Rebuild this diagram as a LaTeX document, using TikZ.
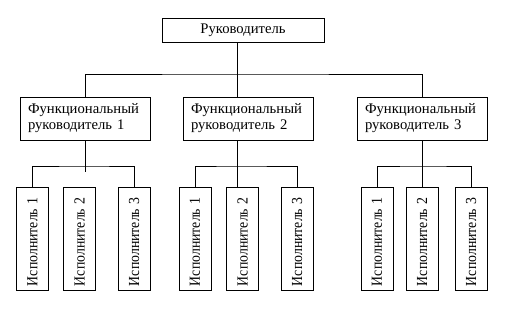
\documentclass[tikz,border=0pt]{standalone}
\usepackage{fontspec}
\usepackage{graphicx}
\setmainfont{Liberation Serif}
\usetikzlibrary{calc}
\newcommand{\exlabel}[1]{\scalebox{0.9}[1]{Исполнитель #1}}

\begin{document}
\begin{tikzpicture}[x=0.75pt,y=-0.75pt,
 head/.style={draw,line width=0.6pt,minimum width=121.5pt,minimum height=18pt,
 inner sep=0pt,font=\fontsize{11}{12}\selectfont},
 fmbox/.style={draw,line width=0.6pt,text width=85.5pt,inner xsep=6pt,
 minimum height=32.25pt,align=left,font=\fontsize{11}{12}\selectfont},
 exbox/.style={draw,line width=0.6pt,rotate=90,text width=71.25pt,inner xsep=3pt,
 inner ysep=0pt,minimum height=24pt,align=left,font=\fontsize{11.5}{12}\selectfont},
 link/.style={line width=0.6pt}]
\useasboundingbox (0,0) rectangle (516,309);
\node[head] (boss) at (243,30) {Руководитель};
\node[fmbox] (fm1) at (85,118.5) {Функциональный\\руководитель 1};
\node[fmbox] (fm2) at (248,118.5) {Функциональный\\руководитель 2};
\node[fmbox] (fm3) at (422,118.5) {Функциональный\\руководитель 3};
\node[exbox] (ex11) at (32.5,238.5) {\exlabel{1}};
\node[exbox] (ex12) at (79.5,238.5) {\exlabel{2}};
\node[exbox] (ex13) at (134,238.5) {\exlabel{3}};
\node[exbox] (ex21) at (195,238.5) {\exlabel{1}};
\node[exbox] (ex22) at (242.5,238.5) {\exlabel{2}};
\node[exbox] (ex23) at (297,238.5) {\exlabel{3}};
\node[exbox] (ex31) at (377,238.5) {\exlabel{1}};
\node[exbox] (ex32) at (422,238.5) {\exlabel{2}};
\node[exbox] (ex33) at (471,238.5) {\exlabel{3}};
% buses
\coordinate (spine) at (237,74);
\coordinate (bus1) at (85,166);
\coordinate (stub1) at (85,172);
\coordinate (bus2) at (237,166);
\coordinate (bus3) at (422,166);
\draw[link] (spine |- boss.south) -- (spine |- fm2.north);
\draw[link] (fm1.north) |- (spine) -| (fm3.north);
\draw[link] (fm1.south) -- (stub1);
\draw[link] (ex11.east) |- (bus1) -| (ex13.east);
\draw[link] (spine |- fm2.south) -- (spine |- ex22.east);
\draw[link] (ex21.east) |- (bus2) -| (ex23.east);
\draw[link] (fm3.south) -- (ex32.east);
\draw[link] (ex31.east) |- (bus3) -| (ex33.east);
\end{tikzpicture}
\end{document}
